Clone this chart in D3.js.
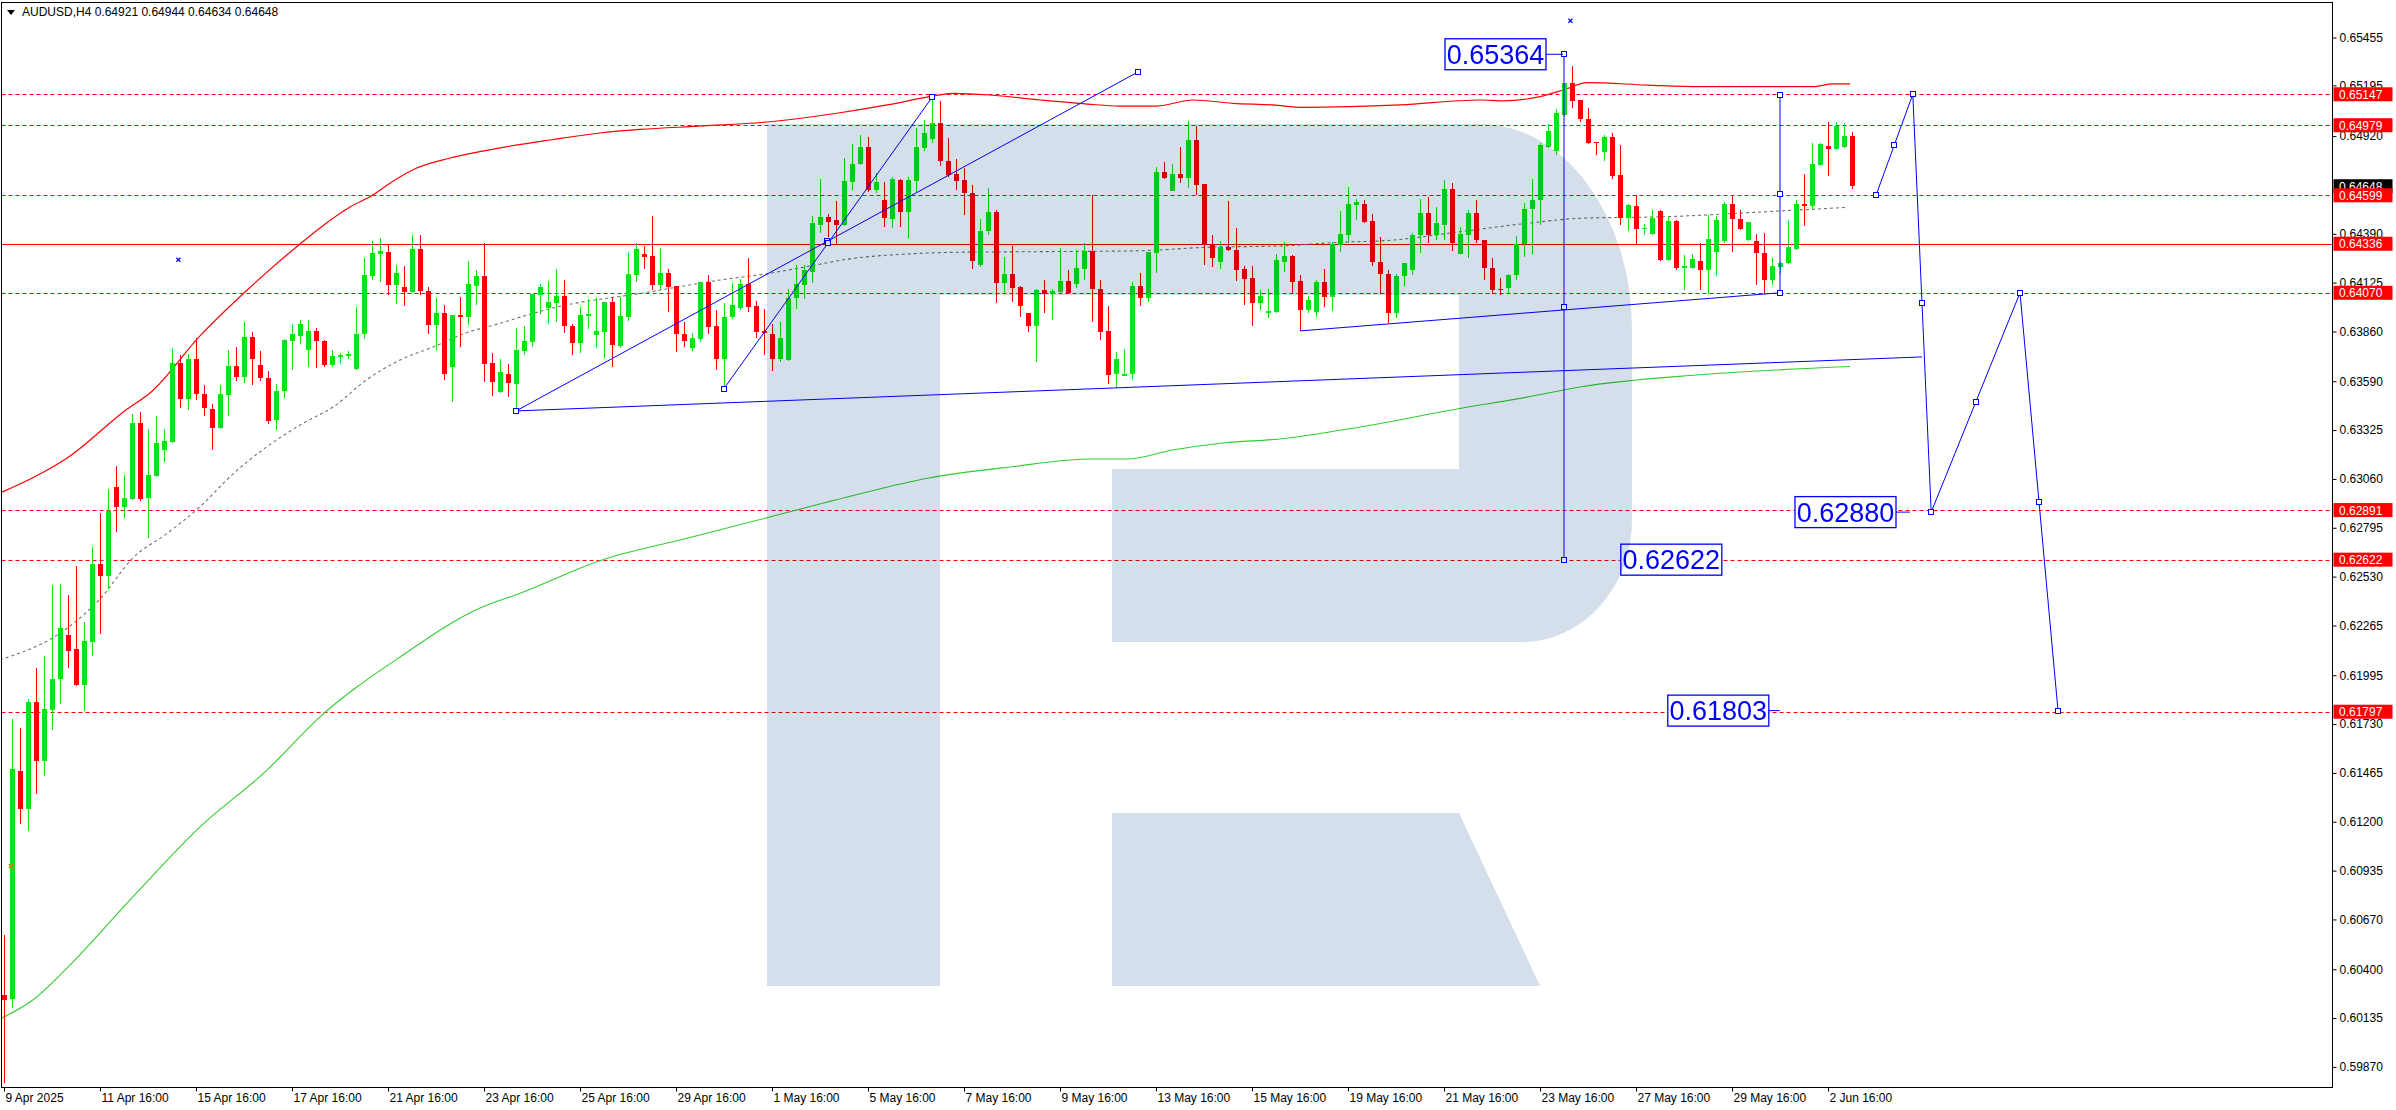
<!DOCTYPE html>
<html><head><meta charset="utf-8">
<script src="https://cdn.jsdelivr.net/npm/d3@7"></script>
<style>
html,body{margin:0;padding:0;background:#fff;overflow:hidden;}
svg{display:block;font-family:"Liberation Sans",Arial,sans-serif;}
</style>
</head><body>
<svg id="chart" width="2396" height="1110"></svg>
<script>
// ---------------- DATA ----------------
const symbol = "AUDUSD,H4";
const lastQuote = [0.64921, 0.64944, 0.64634, 0.64648];

const dateLabels = ["9 Apr 2025","11 Apr 16:00","15 Apr 16:00","17 Apr 16:00","21 Apr 16:00","23 Apr 16:00","25 Apr 16:00","29 Apr 16:00","1 May 16:00","5 May 16:00","7 May 16:00","9 May 16:00","13 May 16:00","15 May 16:00","19 May 16:00","21 May 16:00","23 May 16:00","27 May 16:00","29 May 16:00","2 Jun 16:00"];
const dateLabelBars = [0,12,24,36,48,60,72,84,96,108,120,132,144,156,168,180,192,204,216,228];

const priceTicks = [0.65455,0.65195,0.64920,0.64390,0.64125,0.63860,0.63590,0.63325,0.63060,0.62795,0.62530,0.62265,0.61995,0.61730,0.61465,0.61200,0.60935,0.60670,0.60400,0.60135,0.59870];

const dashedLevels = [0.65147,0.64979,0.64599,0.64070,0.62891,0.62622,0.61797];
const solidLevel = 0.64336;
const currentPrice = 0.64648;

const open = [0.60261,0.60237,0.61473,0.61267,0.61850,0.61532,0.61806,0.61973,0.62214,0.62135,
0.61944,0.62173,0.62600,0.62532,0.63018,0.62909,0.62950,0.63362,0.62956,0.63076,
0.63218,0.63262,0.63691,0.63494,0.63709,0.63521,0.63438,0.63335,0.63515,0.63671,
0.63615,0.63832,0.63677,0.63606,0.63379,0.63538,0.63809,0.63838,0.63759,0.63865,
0.63807,0.63677,0.63722,0.63726,0.63655,0.63845,0.64160,0.64280,0.64290,0.64111,
0.64100,0.64073,0.64307,0.64080,0.63894,0.63961,0.63668,0.63948,0.63939,0.64106,
0.64160,0.63688,0.63534,0.63632,0.63577,0.63755,0.63804,0.64059,0.63990,0.64015,
0.64051,0.63890,0.63798,0.63945,0.63840,0.63858,0.64019,0.63780,0.63936,0.64166,
0.64280,0.64269,0.64111,0.64177,0.64106,0.63845,0.63773,0.63820,0.64126,0.63889,
0.63713,0.63936,0.63985,0.64120,0.63997,0.63861,0.63849,0.63713,0.63704,0.64042,
0.64111,0.64184,0.64439,0.64479,0.64464,0.64439,0.64672,0.64768,0.64859,0.64627,
0.64576,0.64471,0.64681,0.64509,0.64678,0.64855,0.64906,0.64993,0.64785,0.64714,
0.64682,0.64611,0.64220,0.64406,0.64508,0.64124,0.64171,0.64099,0.63958,0.63889,
0.64084,0.64066,0.64075,0.64133,0.64120,0.64200,0.64296,0.64088,0.63862,0.63628,
0.63619,0.63628,0.64106,0.64043,0.64287,0.64725,0.64624,0.64714,0.64692,0.64899,
0.64660,0.64332,0.64238,0.64318,0.64301,0.64198,0.64149,0.64016,0.63958,0.63965,
0.64237,0.64268,0.64134,0.63979,0.63966,0.64127,0.64047,0.64328,0.64382,0.64547,
0.64550,0.64458,0.64237,0.64174,0.63960,0.64163,0.64192,0.64382,0.64503,0.64382,
0.64437,0.64632,0.64283,0.64382,0.64505,0.64359,0.64207,0.64089,0.64096,0.64165,
0.64333,0.64523,0.64572,0.64862,0.64840,0.65034,0.65206,0.65115,0.65015,0.64889,
0.64834,0.64916,0.64708,0.64478,0.64540,0.64416,0.64387,0.64514,0.64246,0.64460,
0.64206,0.64206,0.64241,0.64192,0.64291,0.64351,0.64550,0.64472,0.64355,0.64351,
0.64288,0.64138,0.64210,0.64232,0.64310,0.64550,0.64541,0.64762,0.64867,0.64849,
0.64862,0.64921];
const high = [0.60585,0.61755,0.61708,0.61867,0.62035,0.62100,0.62482,0.62488,0.62429,0.62585,
0.62285,0.62688,0.62873,0.63003,0.63129,0.63079,0.63415,0.63421,0.63332,0.63403,
0.63329,0.63768,0.63733,0.63738,0.63827,0.63571,0.63468,0.63571,0.63762,0.63777,
0.63909,0.63856,0.63756,0.63644,0.63574,0.63821,0.63903,0.63924,0.63921,0.63880,
0.63813,0.63762,0.63744,0.63753,0.63994,0.64258,0.64350,0.64366,0.64332,0.64220,
0.64214,0.64385,0.64385,0.64100,0.64042,0.64003,0.63948,0.64048,0.64243,0.64193,
0.64341,0.63744,0.63709,0.63682,0.63880,0.63889,0.64066,0.64117,0.64135,0.64198,
0.64138,0.63903,0.63994,0.64035,0.64041,0.64021,0.64048,0.64048,0.64289,0.64341,
0.64323,0.64488,0.64314,0.64198,0.64106,0.63912,0.63854,0.64129,0.64166,0.63976,
0.64017,0.64124,0.64144,0.64261,0.64024,0.63981,0.63903,0.63909,0.64088,0.64220,
0.64220,0.64486,0.64687,0.64500,0.64567,0.64799,0.64877,0.64926,0.64913,0.64718,
0.64669,0.64700,0.64685,0.64696,0.64962,0.65007,0.65130,0.65110,0.64911,0.64794,
0.64745,0.64653,0.64468,0.64638,0.64519,0.64263,0.64325,0.64106,0.63961,0.64093,
0.64139,0.64088,0.64311,0.64193,0.64301,0.64338,0.64598,0.64139,0.63997,0.63749,
0.63767,0.64126,0.64180,0.64292,0.64750,0.64779,0.64767,0.64863,0.65002,0.64975,
0.64660,0.64383,0.64350,0.64568,0.64423,0.64215,0.64215,0.64084,0.64093,0.64283,
0.64346,0.64277,0.64165,0.64051,0.64141,0.64201,0.64346,0.64512,0.64645,0.64581,
0.64576,0.64500,0.64373,0.64196,0.64174,0.64232,0.64395,0.64581,0.64587,0.64536,
0.64681,0.64663,0.64428,0.64521,0.64576,0.64359,0.64261,0.64152,0.64170,0.64377,
0.64558,0.64690,0.64885,0.64985,0.65065,0.65210,0.65300,0.65115,0.65075,0.64889,
0.64925,0.64938,0.64871,0.64554,0.64599,0.64442,0.64521,0.64518,0.64482,0.64463,
0.64273,0.64282,0.64342,0.64490,0.64485,0.64563,0.64599,0.64518,0.64454,0.64391,
0.64395,0.64259,0.64237,0.64467,0.64576,0.64717,0.64880,0.64883,0.64997,0.64994,
0.64992,0.64944];
const low = [0.59780,0.60187,0.61188,0.61150,0.61350,0.61447,0.61697,0.61841,0.62032,0.61938,
0.61803,0.62097,0.62217,0.62462,0.62770,0.62850,0.62944,0.62938,0.62741,0.63071,
0.63153,0.63256,0.63447,0.63432,0.63488,0.63403,0.63218,0.63332,0.63403,0.63591,
0.63580,0.63568,0.63591,0.63359,0.63327,0.63497,0.63650,0.63791,0.63665,0.63660,
0.63668,0.63668,0.63682,0.63713,0.63650,0.63818,0.64138,0.64127,0.64057,0.64008,
0.63997,0.64070,0.64057,0.63845,0.63758,0.63595,0.63478,0.63776,0.63894,0.64003,
0.63586,0.63510,0.63527,0.63505,0.63429,0.63731,0.63776,0.63957,0.63900,0.63912,
0.63852,0.63731,0.63744,0.63872,0.63773,0.63717,0.63668,0.63773,0.63916,0.64129,
0.64198,0.64084,0.64084,0.63966,0.63749,0.63776,0.63755,0.63804,0.63849,0.63653,
0.63550,0.63928,0.63979,0.63963,0.63822,0.63731,0.63646,0.63695,0.63700,0.63981,
0.64035,0.64124,0.64395,0.64374,0.64334,0.64435,0.64627,0.64763,0.64618,0.64609,
0.64428,0.64419,0.64428,0.64368,0.64618,0.64841,0.64881,0.64757,0.64700,0.64627,
0.64492,0.64200,0.64211,0.64385,0.64016,0.64061,0.64021,0.63940,0.63858,0.63695,
0.63958,0.63921,0.64070,0.64063,0.64097,0.64139,0.63912,0.63813,0.63574,0.63556,
0.63617,0.63599,0.63997,0.64021,0.64178,0.64689,0.64622,0.64667,0.64638,0.64602,
0.64220,0.64211,0.64198,0.64298,0.64133,0.64003,0.63891,0.63976,0.63934,0.63958,
0.64183,0.64069,0.63863,0.63960,0.63939,0.63993,0.63971,0.64292,0.64342,0.64464,
0.64449,0.64216,0.64065,0.63906,0.63935,0.64105,0.64165,0.64286,0.64341,0.64355,
0.64359,0.64297,0.64279,0.64261,0.64341,0.64138,0.64065,0.64056,0.64071,0.64138,
0.64265,0.64283,0.64437,0.64853,0.64817,0.65025,0.65075,0.64997,0.64876,0.64816,
0.64786,0.64690,0.64436,0.64405,0.64333,0.64382,0.64382,0.64243,0.64243,0.64196,
0.64087,0.64201,0.64087,0.64062,0.64159,0.64340,0.64291,0.64409,0.64351,0.64110,
0.64065,0.64110,0.64170,0.64228,0.64304,0.64431,0.64518,0.64758,0.64704,0.64847,
0.64856,0.64634];
const close = [0.60232,0.61488,0.61267,0.61850,0.61532,0.61814,0.61973,0.62253,0.62129,0.61944,
0.62179,0.62600,0.62532,0.62888,0.62909,0.62959,0.63362,0.62950,0.63079,0.63256,
0.63268,0.63691,0.63494,0.63709,0.63521,0.63444,0.63335,0.63521,0.63671,0.63615,
0.63832,0.63712,0.63609,0.63374,0.63538,0.63812,0.63844,0.63903,0.63865,0.63806,
0.63677,0.63726,0.63731,0.63737,0.63849,0.64166,0.64285,0.64296,0.64111,0.64177,
0.64073,0.64307,0.64077,0.63894,0.63961,0.63628,0.63948,0.63939,0.64117,0.64160,
0.63682,0.63586,0.63639,0.63581,0.63758,0.63807,0.64062,0.64100,0.64019,0.64053,
0.63890,0.63798,0.63948,0.63954,0.63861,0.64021,0.63785,0.63943,0.64171,0.64307,
0.64265,0.64111,0.64177,0.64100,0.63845,0.63809,0.63824,0.64126,0.63885,0.63713,
0.63936,0.64001,0.64120,0.63994,0.63858,0.63852,0.63713,0.63827,0.64044,0.64120,
0.64193,0.64446,0.64479,0.64455,0.64439,0.64674,0.64768,0.64859,0.64627,0.64671,
0.64473,0.64685,0.64509,0.64681,0.64859,0.64935,0.64993,0.64786,0.64709,0.64678,
0.64613,0.64242,0.64405,0.64508,0.64124,0.64171,0.64097,0.64000,0.63889,0.64084,
0.64066,0.64079,0.64133,0.64070,0.64204,0.64296,0.64088,0.63858,0.63623,0.63710,
0.63632,0.64106,0.64043,0.64291,0.64727,0.64694,0.64714,0.64692,0.64899,0.64656,
0.64332,0.64260,0.64316,0.64303,0.64193,0.64144,0.64016,0.64055,0.63970,0.64247,
0.64268,0.64129,0.63979,0.64033,0.64127,0.64047,0.64333,0.64388,0.64550,0.64560,
0.64455,0.64237,0.64174,0.63960,0.64163,0.64232,0.64382,0.64503,0.64382,0.64446,
0.64632,0.64341,0.64388,0.64505,0.64355,0.64205,0.64087,0.64087,0.64168,0.64337,
0.64527,0.64576,0.64871,0.64949,0.65046,0.65206,0.65111,0.65012,0.64883,0.64880,
0.64916,0.64704,0.64478,0.64545,0.64416,0.64422,0.64476,0.64246,0.64460,0.64205,
0.64214,0.64255,0.64192,0.64364,0.64463,0.64554,0.64472,0.64415,0.64454,0.64288,
0.64141,0.64214,0.64234,0.64319,0.64550,0.64541,0.64768,0.64876,0.64851,0.64976,
0.64920,0.64648];

// indicator lines: [bar index, price]
const upperBand = [[-0.5,0.62984],[4.5,0.63087],[7.9,0.63174],[15.4,0.63439],[18.25,0.63526],[24.5,0.63836],[30.4,0.64085],[37,0.64335],[39.5,0.64422],[43.25,0.64535],[46.1,0.64600],[47.9,0.64655],[51.6,0.64747],[55.75,0.64801],[62,0.64856],[68.25,0.64899],[74.5,0.64937],[79.5,0.64956],[87.4,0.64975],[95.75,0.64998],[104.1,0.65044],[110.4,0.65089],[115.75,0.65134],[118.6,0.65152],[123.25,0.65143],[129.5,0.65116],[135.4,0.65094],[139.5,0.65083],[144.1,0.65083],[148.6,0.65116],[153.6,0.65098],[158.6,0.65089],[162.4,0.65076],[174.5,0.65089],[184.5,0.65116],[187.4,0.65111],[192,0.65134],[194.9,0.65170],[197.9,0.65210],[205.4,0.65197],[212,0.65188],[226.1,0.65188],[228.6,0.65203],[230.75,0.65203]];
const middleLine = [[-0.5,0.62079],[7.8,0.62247],[12,0.62409],[16.1,0.62631],[20.3,0.62762],[24.5,0.62909],[28.6,0.63086],[32.8,0.63233],[37.4,0.63362],[41.2,0.63452],[45.3,0.63597],[49.5,0.63705],[53.7,0.63777],[57.8,0.63853],[62,0.63904],[66.2,0.63959],[70.3,0.64004],[74.5,0.64035],[79.1,0.64063],[83.25,0.64094],[89.5,0.64139],[95.75,0.64176],[99.9,0.64208],[106.2,0.64257],[112.4,0.64279],[119.5,0.64290],[129.5,0.64293],[142,0.64298],[150.3,0.64317],[159.5,0.64324],[166.1,0.64342],[173.6,0.64356],[182,0.64401],[190.4,0.64447],[197,0.64474],[207.9,0.64483],[220.4,0.64510],[230.5,0.64534]];
const lowerLine = [[-0.5,0.60130],[3.6,0.60233],[7.9,0.60407],[16.1,0.60792],[24.5,0.61172],[32.9,0.61481],[39.5,0.61769],[49.5,0.62094],[59.5,0.62360],[64.6,0.62441],[74.75,0.62620],[85,0.62734],[95.25,0.62848],[105.4,0.62962],[115.6,0.63065],[125.75,0.63125],[136,0.63168],[140.4,0.63168],[146.1,0.63217],[152.4,0.63255],[159.5,0.63277],[169.5,0.63342],[181.6,0.63439],[190.4,0.63504],[197,0.63559],[212,0.63625],[230.75,0.63670]];

// drawn objects (bar index, price)
const trendLower = [[64,0.63429],[239.75,0.63722]];
const trendA = [[64,0.63429],[141.75,0.65268]];
const trendB = [[90,0.63550],[116,0.65130]];
const trendUpper = [[162,0.63863],[222,0.64070]];
const vertical1 = [[195,0.65364],[195,0.62622]];
const vertical2 = [[222,0.65142],[222,0.64070]];
const projBars = [234,238.6,240.9,252,256.75];
const projPrices = [0.64599,0.65147,0.62880,0.64070,0.61803];

const priceNotes = [
  {text:"0.65364", price:0.65364, edgeBar:192.75, side:"left", tail:17},
  {text:"0.62622", price:0.62622, edgeBar:202.1, side:"right", tail:0},
  {text:"0.62880", price:0.62880, edgeBar:236.5, side:"left", tail:14},
  {text:"0.61803", price:0.61803, edgeBar:220.6, side:"left", tail:11}
];
const crossMarks = [{bar:21.8, price:0.64249, color:"#0000ff"},{bar:195.8, price:0.65546, color:"#0000ff"},{bar:0.84, price:0.60960, color:"#ff6a00"}];

// ---------------- DRAW ----------------
const svg = d3.select("#chart");
const plot = {left:1.5, top:2.5, right:2332.5, bottom:1087.5};
const x = d3.scaleLinear().domain([0,231]).range([4,1852]);
const y = d3.scaleLinear().domain([0.65455,0.59870]).range([37.5,1066.9]);

svg.append("defs").append("clipPath").attr("id","plotclip")
  .append("rect").attr("x",plot.left).attr("y",plot.top)
  .attr("width",plot.right-plot.left).attr("height",plot.bottom-plot.top);

const g = svg.append("g").attr("clip-path","url(#plotclip)");

// levels
g.selectAll("line.lvl").data(dashedLevels).join("line")
  .attr("x1",plot.left).attr("x2",plot.right)
  .attr("y1",d=>Math.round(y(d))+0.5).attr("y2",d=>Math.round(y(d))+0.5)
  .attr("stroke","#ff0000").attr("stroke-width",1).attr("stroke-dasharray","4,3");
g.append("line").attr("x1",plot.left).attr("x2",plot.right)
  .attr("y1",Math.round(y(solidLevel))+0.5).attr("y2",Math.round(y(solidLevel))+0.5)
  .attr("stroke","#ff0000").attr("stroke-width",1);

// indicator lines
const ln = d3.line().x(d=>x(d[0])).y(d=>y(d[1])).curve(d3.curveMonotoneX);
g.append("path").attr("d",ln(upperBand)).attr("fill","none").attr("stroke","#ff0000").attr("stroke-width",1.2);
g.append("path").attr("d",ln(lowerLine)).attr("fill","none").attr("stroke","#32cd32").attr("stroke-width",1.1);
g.append("path").attr("d",ln(middleLine)).attr("fill","none").attr("stroke","#707070").attr("stroke-width",1.1).attr("stroke-dasharray","3,3");

// candles
const bars = d3.range(open.length).map(i=>({i,o:open[i],h:high[i],l:low[i],c:close[i]}));
const cg = g.append("g").attr("shape-rendering","crispEdges");
const bull="#12e01c", bear="#ff0000";
cg.selectAll("line.w").data(bars).join("line")
  .attr("x1",d=>Math.round(x(d.i))+0.5).attr("x2",d=>Math.round(x(d.i))+0.5)
  .attr("y1",d=>y(d.h)).attr("y2",d=>y(d.l))
  .attr("stroke",d=>d.c>d.o?bull:bear).attr("stroke-width",1);
cg.selectAll("rect.b").data(bars).join("rect")
  .attr("x",d=>Math.round(x(d.i))-2).attr("width",5)
  .attr("y",d=>y(Math.max(d.o,d.c)))
  .attr("height",d=>Math.max(1,y(Math.min(d.o,d.c))-y(Math.max(d.o,d.c))))
  .attr("fill",d=>d.c>d.o?bull:bear);

// blue objects
const blue="#0000ff";
const segs=[trendLower,trendA,trendB,trendUpper,vertical1,vertical2];
const bl = d3.line().x(d=>x(d[0])).y(d=>y(d[1]));
segs.forEach(s=>g.append("path").attr("d",bl(s)).attr("fill","none").attr("stroke",blue).attr("stroke-width",1));
const proj = projBars.map((b,k)=>[b,projPrices[k]]);
g.append("path").attr("d",bl(proj)).attr("fill","none").attr("stroke",blue).attr("stroke-width",1);

// squares: endpoints and midpoints
const sq=[];
function addEM(s){sq.push(s[0],s[1],[(s[0][0]+s[1][0])/2,(s[0][1]+s[1][1])/2]);}
[trendA,trendB,vertical1,vertical2].forEach(addEM);
for(let k=0;k<proj.length-1;k++) addEM([proj[k],proj[k+1]]);
g.selectAll("rect.sq").data(sq).join("rect")
  .attr("x",d=>Math.round(x(d[0]))-2.5).attr("y",d=>Math.round(y(d[1]))-2.5)
  .attr("width",5).attr("height",5).attr("fill","#fff").attr("stroke",blue).attr("stroke-width",1);

// price notes
priceNotes.forEach(n=>{
  const yy=y(n.price), w=101, h=31;
  const edge=x(n.edgeBar);
  const bx = n.side==="left"? edge-w : edge;
  g.append("rect").attr("x",bx).attr("y",yy-h/2).attr("width",w).attr("height",h)
   .attr("fill","#fff").attr("stroke",blue).attr("stroke-width",1.3);
  g.append("text").attr("x",bx+w/2).attr("y",yy+9.5).attr("text-anchor","middle")
   .attr("font-size",27).attr("fill",blue).text(n.text);
  if(n.tail>0){
    g.append("line").attr("x1",edge).attr("x2",edge+n.tail).attr("y1",yy).attr("y2",yy)
     .attr("stroke",blue).attr("stroke-width",1);
  }
});

// cross marks
crossMarks.forEach(m=>{
  const cx=x(m.bar), cy=y(m.price);
  g.append("path").attr("d",`M${cx-2},${cy-2}L${cx+2},${cy+2}M${cx-2},${cy+2}L${cx+2},${cy-2}`)
   .attr("stroke",m.color).attr("stroke-width",1.2);
});

// watermark logo (multiply)
const wm = g.append("g").style("mix-blend-mode","multiply");
wm.append("path").attr("fill","#d5dfeb").attr("d",
 "M767,124 H1480 A152,205 0 0 1 1632,330 V520 A110,122 0 0 1 1522,642 H1112 V469 H1459 V295 H940 V986 H767 Z M1112,813 H1459 L1540,986 H1112 Z");

// frame
svg.append("rect").attr("x",plot.left).attr("y",plot.top).attr("width",plot.right-plot.left)
  .attr("height",plot.bottom-plot.top).attr("fill","none").attr("stroke","#000").attr("stroke-width",1);

// axes
const yAxis = d3.axisRight(y).tickValues(priceTicks).tickFormat(d3.format(".5f")).tickSize(4).tickPadding(3);
const ya = svg.append("g").attr("transform",`translate(${plot.right},0)`).call(yAxis);
ya.select(".domain").remove();
ya.selectAll("text").attr("font-size",12).attr("fill","#000").attr("font-family","Liberation Sans, Arial, sans-serif");
ya.selectAll("line").attr("stroke","#000");

const xAxis = d3.axisBottom(x).tickValues(dateLabelBars).tickFormat((d,k)=>dateLabels[k]).tickSize(4).tickPadding(2);
const xa = svg.append("g").attr("transform",`translate(0,${plot.bottom})`).call(xAxis);
xa.select(".domain").remove();
xa.selectAll("text").attr("text-anchor","start").attr("dx",1).attr("font-size",12).attr("fill","#000").attr("font-family","Liberation Sans, Arial, sans-serif");
xa.selectAll("line").attr("stroke","#000");

// price tags (current price first, level tags drawn over it)
function tag(p,bg,txt){
  const yy=y(p);
  svg.append("rect").attr("x",plot.right+1).attr("y",yy-7).attr("width",59).attr("height",14).attr("fill",bg);
  svg.append("text").attr("x",plot.right+6.5).attr("y",yy+4.5).attr("font-size",12).attr("fill","#fff").text(txt);
}
tag(currentPrice,"#000",d3.format(".5f")(currentPrice));
[...dashedLevels,solidLevel].forEach(p=>tag(p,"#ff0000",d3.format(".5f")(p)));

// title
svg.append("path").attr("d","M7,10 L15,10 L11,15 Z").attr("fill","#000");
svg.append("text").attr("x",22).attr("y",16).attr("font-size",12).attr("fill","#000")
  .text(symbol+"  "+lastQuote.map(d3.format(".5f")).join(" "));
</script>
</body></html>
